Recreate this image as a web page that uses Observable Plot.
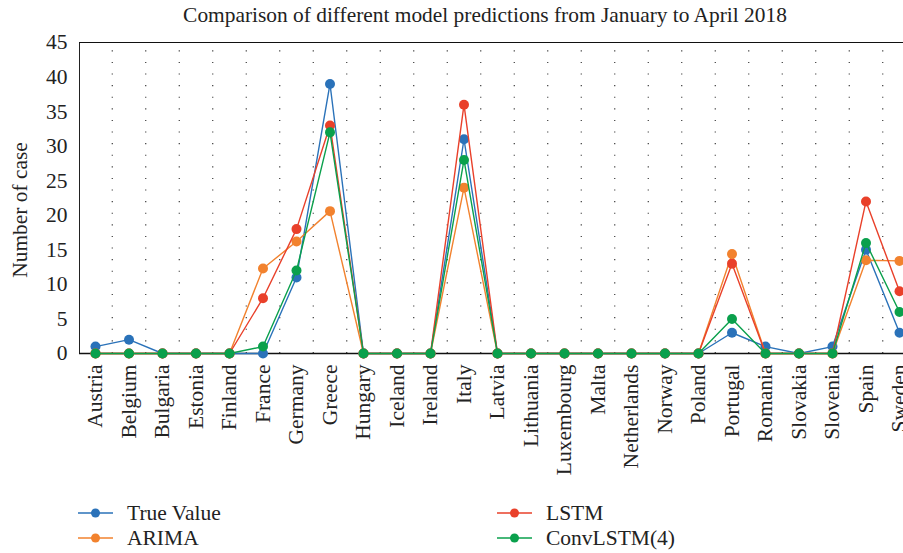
<!DOCTYPE html>
<html>
<head>
<meta charset="utf-8">
<script src="https://cdn.jsdelivr.net/npm/d3@7"></script>
<script src="https://cdn.jsdelivr.net/npm/@observablehq/plot@0.6"></script>
<style>
  html, body { margin: 0; padding: 0; background: #fff; }
  #wrap { position: relative; width: 903px; height: 553px; overflow: hidden; font-family: "Liberation Serif", "DejaVu Serif", serif; color: #222; }
  #title { position: absolute; left: 0; width: 970px; top: 3px; text-align: center; font-size: 21.4px; }
  #ylabel { position: absolute; left: 20px; top: 210px; font-size: 21.4px; white-space: nowrap; transform: translate(-50%, -50%) rotate(-90deg); }
  #chart { position: absolute; left: 0; top: 0; }
  .leg { position: absolute; font-size: 21.5px; display: flex; align-items: center; }
  .leg svg { margin-right: 14px; }
</style>
</head>
<body>
<div id="wrap">
  <div id="chart"></div>
  <div id="title">Comparison of different model predictions from January to April 2018</div>
  <div id="ylabel">Number of case</div>
  <div id="legend"></div>
</div>
<script>
const countries = ["Austria","Belgium","Bulgaria","Estonia","Finland","France","Germany","Greece","Hungary","Iceland","Ireland","Italy","Latvia","Lithuania","Luxembourg","Malta","Netherlands","Norway","Poland","Portugal","Romania","Slovakia","Slovenia","Spain","Sweden"];
const trueValue = [1,2,0,0,0,0,11,39,0,0,0,31,0,0,0,0,0,0,0,3,1,0,1,15,3];
const arima     = [0,0,0,0,0,12.3,16.2,20.6,0,0,0,24,0,0,0,0,0,0,0,14.4,0,0,0,13.5,13.4];
const lstm      = [0,0,0,0,0,8,18,33,0,0,0,36,0,0,0,0,0,0,0,13,0,0,0,22,9];
const convlstm  = [0,0,0,0,0,1,12,32,0,0,0,28,0,0,0,0,0,0,0,5,0,0,0,16,6];
const seriesNames = ["True Value","ARIMA","LSTM","ConvLSTM(4)"];
const seriesColors = ["#2a72b9","#f2822e","#e9402a","#0aa04c"];
const yTicks = [0,5,10,15,20,25,30,35,40,45];

const seriesValues = [trueValue, arima, lstm, convlstm];
const data = seriesNames.flatMap((s, k) => countries.map((c, i) => ({series: s, country: c, value: seriesValues[k][i]})));

const step = 33.5;
const x0 = 95;
const grid = {stroke: "#000", strokeWidth: 1.1, strokeDasharray: "1.1,10.5", strokeOpacity: 0.85};

const marks = [
  Plot.ruleY(yTicks.slice(1, -1), {...grid, x1: countries[0], x2: countries[countries.length-1], dx: 0}),
  Plot.ruleX(countries, {...grid, x: d => d, dx: step/2, y1: 0, y2: 45}),
  Plot.ruleY([45], {stroke: "#111", strokeWidth: 1.2}),
  Plot.ruleY([0], {stroke: "#111", strokeWidth: 1.4}),
];
seriesNames.forEach((s, k) => {
  const d = data.filter(r => r.series === s);
  marks.push(Plot.line(d, {x: "country", y: "value", stroke: "series", strokeWidth: 1.4}));
  marks.push(Plot.dot(d, {x: "country", y: "value", fill: "series", r: 5}));
});

const chart = Plot.plot({
  width: 903,
  height: 553,
  marginLeft: 79,
  marginTop: 42,
  marginBottom: 200,
  marginRight: 0,
  style: {fontFamily: "'Liberation Serif', 'DejaVu Serif', serif", fontSize: "21.5px", color: "#222", background: "transparent", overflow: "hidden"},
  x: {type: "point", domain: countries, range: [x0, x0 + step * (countries.length - 1)], padding: 0, round: false, tickRotate: -90, tickSize: 0, tickPadding: 11, label: null},
  y: {domain: [0, 45], range: [353, 42], ticks: yTicks, tickSize: 0, tickPadding: 12, line: true, label: null},
  color: {domain: seriesNames, range: seriesColors},
  marks
});
chart.style.overflow = "hidden";
document.getElementById("chart").appendChild(chart);

// legend
const leg = document.getElementById("legend");
const pos = [[78, 513], [78, 538], [497, 513], [497, 538]];
const order = ["True Value", "ARIMA", "LSTM", "ConvLSTM(4)"];
order.forEach((name, i) => {
  const k = seriesNames.indexOf(name);
  const el = document.createElement("div");
  el.className = "leg";
  el.style.left = pos[i][0] + "px";
  el.style.top = (pos[i][1] - 13) + "px";
  el.style.height = "26px";
  el.innerHTML = `<svg width="35" height="12"><line x1="0" x2="35" y1="6" y2="6" stroke="${seriesColors[k]}" stroke-width="1.4"/><circle cx="17.5" cy="6" r="4.5" fill="${seriesColors[k]}"/></svg><span>${name}</span>`;
  leg.appendChild(el);
});
</script>
</body>
</html>
